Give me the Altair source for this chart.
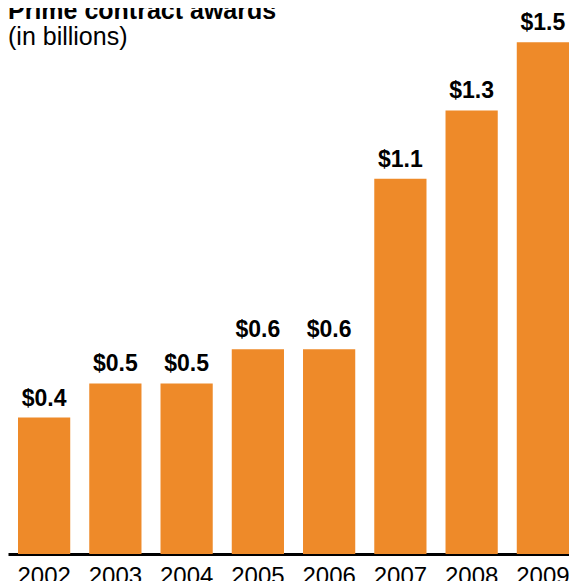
import altair as alt
import pandas as pd

years = ["2002", "2003", "2004", "2005", "2006", "2007", "2008", "2009"]
values = [0.4, 0.5, 0.5, 0.6, 0.6, 1.1, 1.3, 1.5]
labels = ["$0.4", "$0.5", "$0.5", "$0.6", "$0.6", "$1.1", "$1.3", "$1.5"]
title_text = "Prime contract awards"
subtitle_text = "(in billions)"

ORANGE = "#EE8A29"
FONT = "Liberation Sans"

df = pd.DataFrame({"year": years, "value": values, "label": labels})

xenc = alt.X(
    "year:N",
    sort=years,
    scale=alt.Scale(paddingInner=0.267, paddingOuter=0.0702, align=1),
    axis=alt.Axis(
        title=None,
        labelAngle=0,
        ticks=False,
        tickSize=0,
        domainColor="black",
        domainWidth=3,
        labelFontSize=24,
        labelFont=FONT,
        labelColor="black",
        labelPadding=10,
        grid=False,
    ),
)
yenc = alt.Y("value:Q", scale=alt.Scale(domain=[0, 1.6], nice=False), axis=None)

base = alt.Chart(df)
bars = base.mark_bar(color=ORANGE).encode(x=xenc, y=yenc)
text = base.mark_text(
    baseline="alphabetic", dy=-12, fontSize=23, fontWeight="bold", font=FONT, color="black"
).encode(x=xenc, y=yenc, text="label:N")

tdf = pd.DataFrame({"t": [title_text]})
sdf = pd.DataFrame({"s": [subtitle_text]})
title = alt.Chart(tdf).mark_text(
    align="left", baseline="alphabetic", fontSize=25, fontWeight="bold", font=FONT, color="black"
).encode(x=alt.value(0), y=alt.value(11), text="t:N")
subtitle = alt.Chart(sdf).mark_text(
    align="left", baseline="alphabetic", fontSize=25, font=FONT, color="black"
).encode(x=alt.value(0), y=alt.value(37), text="s:N")

chart = (
    alt.layer(bars, text, title, subtitle)
    .properties(
        width=561,
        height=546,
        autosize=alt.AutoSizeParams(type="none"),
        padding={"left": 0, "top": 0, "right": 0, "bottom": 34},
    )
    .configure(background="white")
    .configure_view(strokeWidth=0, stroke="transparent")
)

chart.save("out.html", embed_options={"renderer": "svg", "actions": False})
